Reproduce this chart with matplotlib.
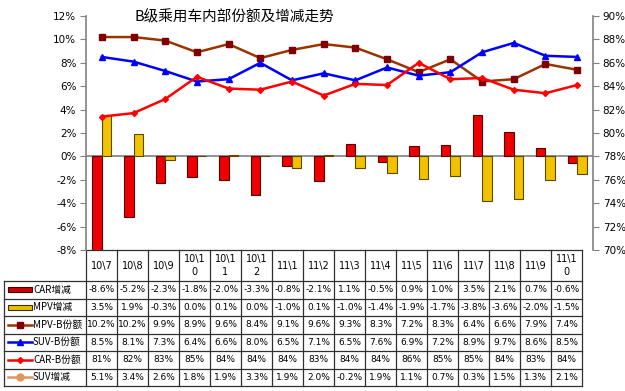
import numpy as np
import matplotlib
matplotlib.use('Agg')
import matplotlib.pyplot as plt
from matplotlib.patches import Rectangle
from matplotlib.lines import Line2D

plt.rcParams['font.family'] = ['Noto Sans CJK SC', 'DejaVu Sans']

# --- data ---
months = ['10\\7', '10\\8', '10\\9', '10\\10', '10\\11', '10\\12',
          '11\\1', '11\\2', '11\\3', '11\\4', '11\\5', '11\\6',
          '11\\7', '11\\8', '11\\9', '11\\10']
car_chg = [-8.6, -5.2, -2.3, -1.8, -2.0, -3.3, -0.8, -2.1, 1.1, -0.5, 0.9, 1.0, 3.5, 2.1, 0.7, -0.6]
mpv_chg = [3.5, 1.9, -0.3, 0.0, 0.1, 0.0, -1.0, 0.1, -1.0, -1.4, -1.9, -1.7, -3.8, -3.6, -2.0, -1.5]
mpv_share = [10.2, 10.2, 9.9, 8.9, 9.6, 8.4, 9.1, 9.6, 9.3, 8.3, 7.2, 8.3, 6.4, 6.6, 7.9, 7.4]
suv_share = [8.5, 8.1, 7.3, 6.4, 6.6, 8.0, 6.5, 7.1, 6.5, 7.6, 6.9, 7.2, 8.9, 9.7, 8.6, 8.5]
car_share = [81.4, 81.7, 82.9, 84.8, 83.8, 83.7, 84.4, 83.2, 84.2, 84.1, 86.0, 84.6, 84.7, 83.7, 83.4, 84.1]
suv_chg = [5.1, 3.4, 2.6, 1.8, 1.9, 3.3, 1.9, 2.0, -0.2, 1.9, 1.1, 0.7, 0.3, 1.5, 1.3, 2.1]

W, H = 625, 391
fig = plt.figure(figsize=(W / 100, H / 100), dpi=100)

# overlay axes in pixel coordinates for the data table
tab = fig.add_axes([0, 0, 1, 1], zorder=0)
tab.set_xlim(0, W)
tab.set_ylim(H, 0)
tab.axis('off')

# main chart area
L, R, T, B = 86, 593, 16, 250
ax = fig.add_axes([L / W, 1 - B / H, (R - L) / W, (B - T) / H], zorder=2)
ax.patch.set_alpha(0)
x = np.arange(len(months))
bw = 0.3

ax.bar(x - bw / 2, car_chg, bw, color='#ee0000', edgecolor='#5a0000', linewidth=0.8, zorder=3)
ax.bar(x + bw / 2, mpv_chg, bw, color='#f2c200', edgecolor='#5a4a00', linewidth=0.8, zorder=3)
ax.axhline(0, color='#808080', linewidth=1.2, zorder=2)
ax.plot(x, mpv_share, color='#993300', linewidth=1.8, marker='s', markersize=5,
        markerfacecolor='#800000', markeredgecolor='#800000', zorder=4)
ax.plot(x, suv_share, color='#0000ff', linewidth=1.8, marker='^', markersize=5,
        markerfacecolor='#0000ff', markeredgecolor='#0000ff', zorder=4)

ax.set_xlim(-0.5, len(months) - 0.5)
ax.set_ylim(-8, 12)
ax.set_yticks(np.arange(-8, 13, 2))
ax.set_yticklabels([f'{v}%' for v in range(-8, 13, 2)], family='DejaVu Sans')
ax.set_xticks([])
for s in ['top', 'bottom', 'right']:
    ax.spines[s].set_visible(False)
ax.spines['left'].set_color('#808080')
ax.spines['left'].set_linewidth(1.2)
ax.tick_params(axis='y', labelsize=7.5, length=4, color='#808080', direction='out', pad=3)

ax2 = ax.twinx()
ax2.plot(x, car_share, color='#ff0000', linewidth=1.8, marker='D', markersize=3,
         markerfacecolor='#ff0000', markeredgecolor='#ff0000', zorder=4)
ax2.set_ylim(70, 90)
ax2.set_yticks(np.arange(70, 91, 2))
ax2.set_yticklabels([f'{v}%' for v in range(70, 91, 2)], family='DejaVu Sans')
for s in ['top', 'bottom', 'left']:
    ax2.spines[s].set_visible(False)
ax2.spines['right'].set_color('#808080')
ax2.spines['right'].set_linewidth(1.2)
ax2.tick_params(axis='y', labelsize=7.5, length=4, color='#808080', direction='out', pad=3)

fig.text(234 / W, 1 - 17 / H, 'B级乘用车内部份额及增减走势', ha='center', va='center', fontsize=10.5)

# --- table ---
col0, col_w = 86, 31
n = len(months)
hdr_top, hdr_bot = 250, 281
row_h = 17.5
lab_left = 4
rows = [
    ('CAR增减', car_chg, '{:.1f}%'),
    ('MPV增减', mpv_chg, '{:.1f}%'),
    ('MPV-B份额', mpv_share, '{:.1f}%'),
    ('SUV-B份额', suv_share, '{:.1f}%'),
    ('CAR-B份额', car_share, '{:.0f}%'),
    ('SUV增减', suv_chg, '{:.1f}%'),
]
tbl_bot = hdr_bot + row_h * len(rows)
lc = '#303030'
lw = 0.9
right_edge = col0 + col_w * n
# vertical lines
for i in range(n + 1):
    xx = col0 + col_w * i
    tab.plot([xx, xx], [hdr_top, tbl_bot], color=lc, linewidth=lw)
tab.plot([lab_left, lab_left], [hdr_bot, tbl_bot], color=lc, linewidth=lw)
# horizontal lines
tab.plot([col0, right_edge], [hdr_top, hdr_top], color=lc, linewidth=lw)
for j in range(len(rows) + 1):
    yy = hdr_bot + row_h * j
    tab.plot([lab_left, right_edge], [yy, yy], color=lc, linewidth=lw)

# header labels
for i, m in enumerate(months):
    lab = m if len(m) <= 4 else m[:4] + '\n' + m[4:]
    tab.text(col0 + col_w * (i + 0.5), (hdr_top + hdr_bot) / 2, lab, ha='center', va='center',
             fontsize=7, linespacing=1.3, family='DejaVu Sans')

# legend keys
kx0, kx1 = 8, 32
for j, (name, vals, fmt) in enumerate(rows):
    yc = hdr_bot + row_h * (j + 0.5)
    if j == 0:
        tab.add_patch(Rectangle((kx0, yc - 2.5), kx1 - kx0, 5, facecolor='#cc0000', edgecolor='#400000', linewidth=0.8))
    elif j == 1:
        tab.add_patch(Rectangle((kx0, yc - 2.5), kx1 - kx0, 5, facecolor='#e8c000', edgecolor='#403000', linewidth=0.8))
    elif j == 2:
        tab.add_line(Line2D([kx0, kx1], [yc, yc], color='#993300', linewidth=1.8))
        tab.plot([(kx0 + kx1) / 2], [yc], marker='s', markersize=5, color='#800000')
    elif j == 3:
        tab.add_line(Line2D([kx0, kx1], [yc, yc], color='#0000ff', linewidth=1.8))
        tab.plot([(kx0 + kx1) / 2], [yc], marker='^', markersize=5, color='#0000ff')
    elif j == 4:
        tab.add_line(Line2D([kx0, kx1], [yc, yc], color='#ff0000', linewidth=1.8))
        tab.plot([(kx0 + kx1) / 2], [yc], marker='D', markersize=3, color='#ff0000')
    else:
        tab.add_line(Line2D([kx0, kx1], [yc, yc], color='#e0965a', linewidth=1.8))
        tab.plot([(kx0 + kx1) / 2], [yc], marker='o', markersize=5, color='#e0965a')
    tab.text(33, yc, name, ha='left', va='center', fontsize=7)
    for i, v in enumerate(vals):
        tab.text(col0 + col_w * (i + 0.5), yc, fmt.format(v), ha='center', va='center',
                 fontsize=6.5, family='DejaVu Sans')

fig.savefig('out.png', dpi=100)
